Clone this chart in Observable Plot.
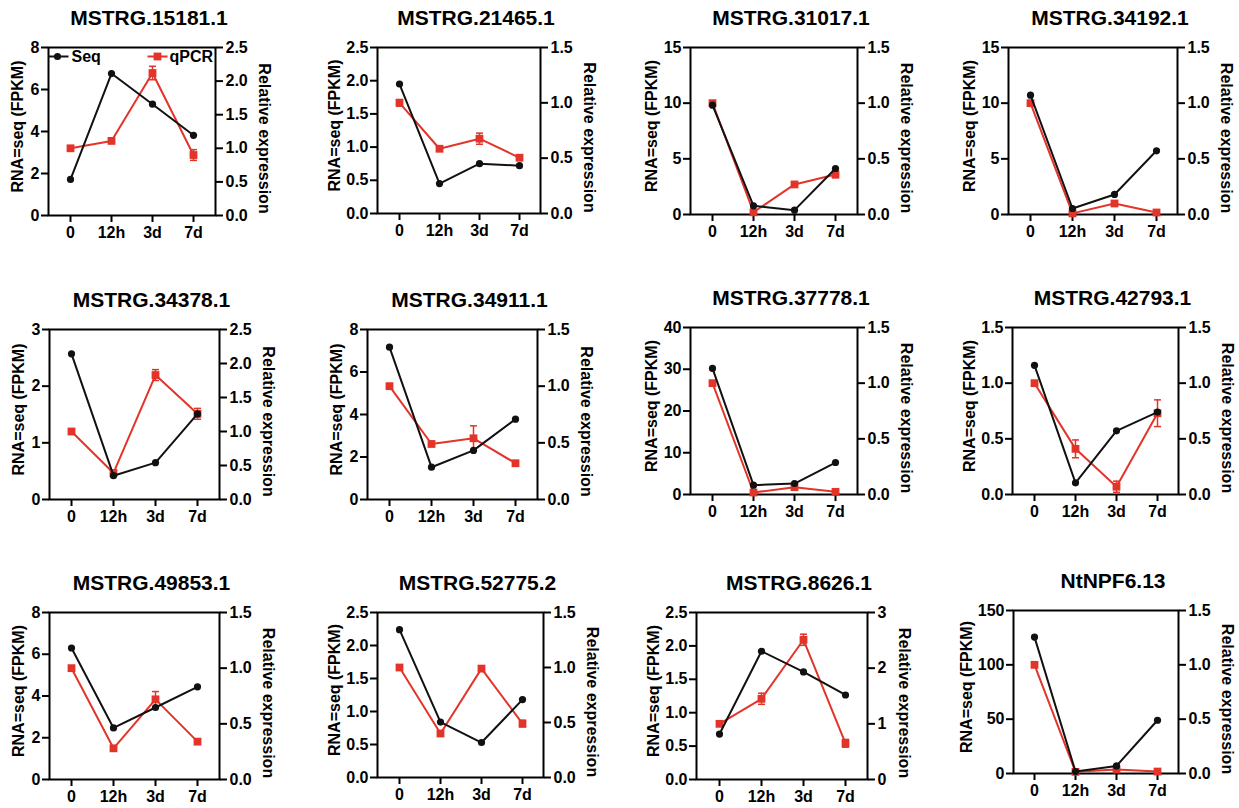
<!DOCTYPE html>
<html><head><meta charset="utf-8">
<script src="https://cdn.jsdelivr.net/npm/d3@7"></script>
<script src="https://cdn.jsdelivr.net/npm/@observablehq/plot@0.6"></script>
<style>
body{margin:0;background:#fff;}
#chart{position:relative;width:1239px;height:808px;overflow:hidden;background:#fff;}
#chart svg{position:absolute;overflow:visible;}
</style></head><body><div id="chart"></div>
<script>
// ---------- data ----------
const times = ["0", "12h", "3d", "7d"];
const genes = ["MSTRG.15181.1","MSTRG.21465.1","MSTRG.31017.1","MSTRG.34192.1",
               "MSTRG.34378.1","MSTRG.34911.1","MSTRG.37778.1","MSTRG.42793.1",
               "MSTRG.49853.1","MSTRG.52775.2","MSTRG.8626.1","NtNPF6.13"];
const seqValues = [
  [1.72, 6.76, 5.30, 3.82],
  [1.95, 0.45, 0.75, 0.72],
  [9.82, 0.78, 0.39, 4.13],
  [10.72, 0.54, 1.80, 5.72],
  [2.57, 0.42, 0.65, 1.51],
  [7.17, 1.52, 2.31, 3.78],
  [30.2, 2.24, 2.63, 7.66],
  [1.16, 0.105, 0.572, 0.74],
  [6.30, 2.47, 3.45, 4.44],
  [2.24, 0.84, 0.53, 1.18],
  [0.68, 1.92, 1.61, 1.265],
  [125.5, 1.8, 7.0, 49]
];
const qpcrValues = [
  [1.0, 1.11, 2.12, 0.90],
  [1.0, 0.585, 0.676, 0.504],
  [1.0, 0.02, 0.27, 0.36],
  [1.0, 0.01, 0.099, 0.018],
  [1.0, 0.39, 1.83, 1.26],
  [1.0, 0.49, 0.54, 0.32],
  [1.0, 0.018, 0.066, 0.024],
  [1.0, 0.41, 0.07, 0.73],
  [1.0, 0.28, 0.72, 0.34],
  [1.0, 0.40, 0.99, 0.49],
  [1.0, 1.45, 2.51, 0.65],
  [1.0, 0.015, 0.037, 0.018]
];
const qpcrErrors = [
  [0.02, 0.03, 0.10, 0.08],
  [0.03, 0.02, 0.05, 0.02],
  [0.01, 0.01, 0.01, 0.03],
  [0.02, 0, 0, 0.01],
  [0.02, 0.03, 0.08, 0.08],
  [0.02, 0.02, 0.11, 0.01],
  [0.02, 0, 0.01, 0],
  [0.02, 0.08, 0.05, 0.12],
  [0.02, 0.01, 0.07, 0.01],
  [0.02, 0.01, 0.01, 0.03],
  [0.03, 0.10, 0.10, 0.07],
  [0.01, 0, 0, 0]
];
const leftTicks = [
  [0,2,4,6,8],
  [0,0.5,1,1.5,2,2.5],
  [0,5,10,15],
  [0,5,10,15],
  [0,1,2,3],
  [0,2,4,6,8],
  [0,10,20,30,40],
  [0,0.5,1,1.5],
  [0,2,4,6,8],
  [0,0.5,1,1.5,2,2.5],
  [0,0.5,1,1.5,2,2.5],
  [0,50,100,150]
];
const rightTicks = [
  [0,0.5,1,1.5,2,2.5],
  [0,0.5,1,1.5],
  [0,0.5,1,1.5],
  [0,0.5,1,1.5],
  [0,0.5,1,1.5,2,2.5],
  [0,0.5,1,1.5],
  [0,0.5,1,1.5],
  [0,0.5,1,1.5],
  [0,0.5,1,1.5],
  [0,0.5,1,1.5],
  [0,1,2,3],
  [0,0.5,1,1.5]
];
const leftLabel = "RNA=seq (FPKM)";
const rightLabel = "Relative expression";
const seriesNames = ["Seq", "qPCR"];

// ---------- layout (frame left, top, right, bottom in page px) ----------
const frames = [
  [48, 47, 215, 215], [377, 47, 540, 213], [690, 47, 857, 214], [1008, 47, 1177, 214],
  [49, 329, 219, 499], [367, 329, 537, 499], [690, 327, 857, 494], [1012, 327, 1178, 494],
  [49, 612, 219, 779], [377, 612, 543, 777], [696, 612, 867, 779], [1013, 610, 1178, 773]
];
const RED = "#e3342a", BLACK = "#111";
const FONT = "'Liberation Sans', Arial, Helvetica, sans-serif";
const TICKFS = 16;

const hline = {draw(ctx, size){ const r = Math.sqrt(size/Math.PI); ctx.moveTo(-r,0); ctx.lineTo(r,0); }};
function textW(s, fs){ let w=0; for(const c of s) w += (c==="." ? 0.278 : 0.556)*fs; return w; }

const mL=80, mR=80, mT=50, mB=40;
const chart = document.getElementById("chart");

genes.forEach((g, i) => {
  const [l, t, r, b] = frames[i];
  const fw = r - l, fh = b - t;
  const lt = leftTicks[i], rt = rightTicks[i];
  const lmax = lt[lt.length-1], rmax = rt[rt.length-1];
  const k = lmax / rmax;
  const lfmt = lt.every(Number.isInteger) ? d3.format("d") : d3.format(".1f");
  const rfmtBase = rt.every(Number.isInteger) ? d3.format("d") : d3.format(".1f");
  const seq = times.map((x, j) => ({time: x, v: seqValues[i][j]}));
  const q = times.map((x, j) => ({
    time: x, v: qpcrValues[i][j]*k,
    lo: (qpcrValues[i][j]-qpcrErrors[i][j])*k,
    hi: (qpcrValues[i][j]+qpcrErrors[i][j])*k,
    e: qpcrErrors[i][j]
  }));
  const qe = q.filter(d => d.e > 0.015);
  const lw = Math.max(...lt.map(d => textW(lfmt(d), 15)));
  const rw = Math.max(...rt.map(d => textW(rfmtBase(d), 15)));

  const marks = [
    Plot.axisY(lt, {anchor: "left", tickSize: 7, tickPadding: 2, tickFormat: lfmt, label: null, strokeWidth: 2, fontSize: TICKFS, fontWeight: "bold"}),
    Plot.axisY(rt.map(d => d*k), {anchor: "right", tickSize: 7, tickPadding: 3, tickFormat: d => rfmtBase(Math.round(d/k*100)/100), label: null, strokeWidth: 2, fontSize: TICKFS, fontWeight: "bold"}),
    Plot.axisX(times, {tickSize: 7, tickPadding: 4, label: null, strokeWidth: 2, fontSize: TICKFS, fontWeight: "bold"}),
    Plot.frame({stroke: "black", strokeWidth: 2}),
    // qPCR
    Plot.ruleX(qe, {x: "time", y1: "lo", y2: "hi", stroke: RED, strokeWidth: 1.5}),
    Plot.dot(qe, {x: "time", y: "hi", symbol: hline, r: 3.5, stroke: RED, strokeWidth: 1.5, fill: "none"}),
    Plot.dot(qe, {x: "time", y: "lo", symbol: hline, r: 3.5, stroke: RED, strokeWidth: 1.5, fill: "none"}),
    Plot.line(q, {x: "time", y: "v", stroke: RED, strokeWidth: 2}),
    Plot.dot(q, {x: "time", y: "v", symbol: "square", r: 4.4, fill: RED}),
    // Seq
    Plot.line(seq, {x: "time", y: "v", stroke: BLACK, strokeWidth: 2}),
    Plot.dot(seq, {x: "time", y: "v", symbol: "circle", r: 3.6, fill: BLACK}),
    // titles & labels
    Plot.text([g], {frameAnchor: "top", dx: 17, dy: -29, fontSize: 21, fontWeight: "bold", lineAnchor: "middle", textAnchor: "middle", fill: "black"}),
    Plot.text([leftLabel], {frameAnchor: "left", dx: -(22 + lw), dy: -5, rotate: -90, fontSize: 16, fontWeight: "bold", lineAnchor: "middle", textAnchor: "middle", fill: "black"}),
    Plot.text([rightLabel], {frameAnchor: "right", dx: 28 + rw, dy: 7, rotate: 90, fontSize: 16, fontWeight: "bold", lineAnchor: "middle", textAnchor: "middle", fill: "black"})
  ];
  if (i === 0) {
    marks.push(
      Plot.dot([seriesNames[0]], {frameAnchor: "top-left", dx: 10, dy: 9, symbol: hline, r: 10, stroke: BLACK, strokeWidth: 2, fill: "none"}),
      Plot.dot([seriesNames[0]], {frameAnchor: "top-left", dx: 9, dy: 9, r: 3.6, fill: BLACK}),
      Plot.text([seriesNames[0]], {frameAnchor: "top-left", dx: 23, dy: 9, textAnchor: "start", lineAnchor: "middle", fontSize: 16, fontWeight: "bold", fill: "black"}),
      Plot.dot([seriesNames[1]], {frameAnchor: "top-left", dx: 109, dy: 9, symbol: hline, r: 10, stroke: RED, strokeWidth: 2, fill: "none"}),
      Plot.dot([seriesNames[1]], {frameAnchor: "top-left", dx: 109, dy: 9, symbol: "square", r: 4.4, fill: RED}),
      Plot.text([seriesNames[1]], {frameAnchor: "top-left", dx: 121, dy: 9, textAnchor: "start", lineAnchor: "middle", fontSize: 16, fontWeight: "bold", fill: "black"})
    );
  }

  const svg = Plot.plot({
    width: fw + mL + mR, height: fh + mT + mB,
    marginLeft: mL, marginRight: mR, marginTop: mT, marginBottom: mB,
    x: {type: "point", domain: times, padding: 0.5},
    y: {domain: [0, lmax]},
    style: {fontFamily: FONT, fontSize: "16px", fontWeight: "bold", color: "black", background: "transparent", overflow: "visible"},
    marks
  });
  svg.style.left = (l - mL) + "px";
  svg.style.top = (t - mT) + "px";
  chart.appendChild(svg);
});
</script>
</body></html>
